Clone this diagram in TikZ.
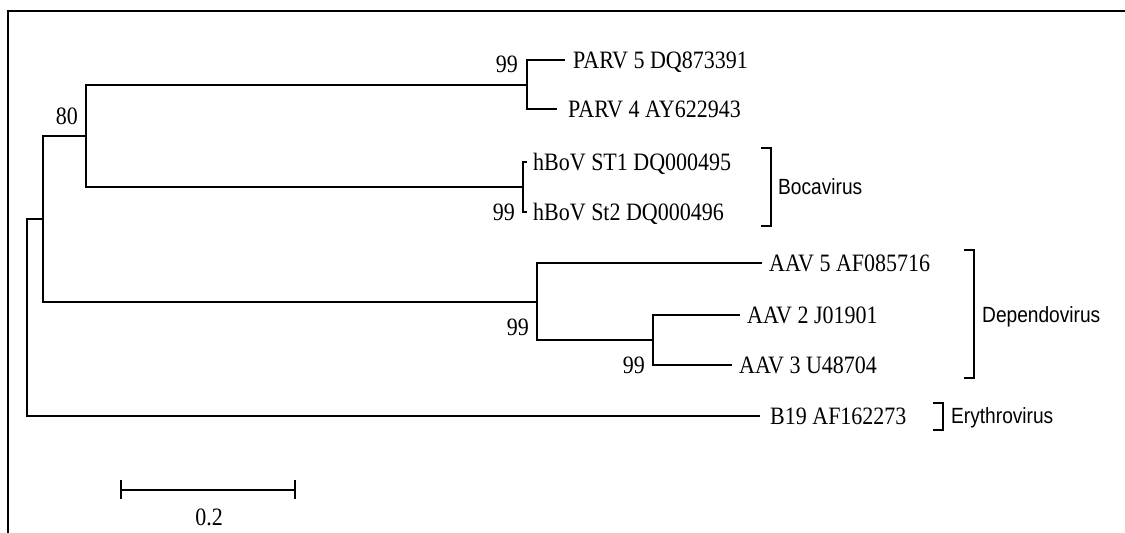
\documentclass[tikz,border=0pt]{standalone}
\usepackage{fontspec}
\setmainfont{Liberation Serif}
\newfontfamily\labsans{Liberation Sans}
\usepackage{graphicx}
\newcommand{\sqz}[1]{\scalebox{0.88}[1]{#1}}
\newcommand{\sqs}[1]{\scalebox{0.87}[1]{#1}}
\begin{document}
\begin{tikzpicture}[x=1pt,y=-1pt,
  branch/.style={line width=2pt, line join=miter},
  framestyle/.style={line width=2pt},
  bracketstyle/.style={line width=2pt},
  taxon/.style={anchor=base west, inner sep=0pt, font=\fontsize{25}{30}\selectfont},
  boot/.style={anchor=base east, inner sep=0pt, font=\fontsize{25}{30}\selectfont},
  genus/.style={anchor=base west, inner sep=0pt, font=\labsans\fontsize{22}{26}\selectfont},
  scalelab/.style={anchor=base, inner sep=0pt, font=\fontsize{25}{30}\selectfont}]
\useasboundingbox (0,0) rectangle (1125,533);
\fill[white] (0,0) rectangle (1125,533);
% frame
\coordinate (f1) at (8,533);
\coordinate (f2) at (8,11);
\coordinate (f3) at (1125,11);
\draw[framestyle] (f1) -- (f2) -- (f3);
% internal nodes
\coordinate (r) at (27,300);
\coordinate (a) at (43,219);
\coordinate (b) at (86,136);
\coordinate (p) at (527,85);
\coordinate (h) at (523,187);
\coordinate (d) at (537,302);
\coordinate (e) at (653,340);
% leaves
\coordinate (l1) at (565,60);
\coordinate (l2) at (557,109);
\coordinate (l3) at (527,162);
\coordinate (l4) at (527,212);
\coordinate (l5) at (762,263);
\coordinate (l6) at (740,315);
\coordinate (l7) at (732,365);
\coordinate (l8) at (760,416);
% branches
\draw[branch] (r) |- (a);
\draw[branch] (r) |- (l8);
\draw[branch] (a) |- (b);
\draw[branch] (a) |- (d);
\draw[branch] (b) |- (p);
\draw[branch] (b) |- (h);
\draw[branch] (p) |- (l1);
\draw[branch] (p) |- (l2);
\draw[branch] (h) |- (l3);
\draw[branch] (h) |- (l4);
\draw[branch] (d) |- (l5);
\draw[branch] (d) |- (e);
\draw[branch] (e) |- (l6);
\draw[branch] (e) |- (l7);
% taxon labels
\node[taxon] (t1) at (573,68) {\sqz{PARV 5 DQ873391}};
\node[taxon] (t2) at (568,117) {\sqz{PARV 4 AY622943}};
\node[taxon] (t3) at (533,170) {\sqz{hBoV ST1 DQ000495}};
\node[taxon] (t4) at (533,220) {\sqz{hBoV St2 DQ000496}};
\node[taxon] (t5) at (769,271) {\sqz{AAV 5 AF085716}};
\node[taxon] (t6) at (747,323) {\sqz{AAV 2 J01901}};
\node[taxon] (t7) at (739,373) {\sqz{AAV 3 U48704}};
\node[taxon] (t8) at (770,424) {\sqz{B19 AF162273}};
% bootstrap values
\node[boot] (bs80) at (78,124) {\sqz{80}};
\node[boot] (bsp) at (518,72) {\sqz{99}};
\node[boot] (bsh) at (515,220) {\sqz{99}};
\node[boot] (bsd) at (529,335) {\sqz{99}};
\node[boot] (bse) at (645,373) {\sqz{99}};
% brackets
\coordinate (bo1) at (761,148);
\coordinate (bo2) at (771,148);
\coordinate (bo3) at (771,226);
\coordinate (bo4) at (761,226);
\draw[bracketstyle] (bo1) -- (bo2) -- (bo3) -- (bo4);
\node[genus] (gbo) at (778,194) {\sqs{Bocavirus}};
\coordinate (de1) at (964,250);
\coordinate (de2) at (974,250);
\coordinate (de3) at (974,378);
\coordinate (de4) at (964,378);
\draw[bracketstyle] (de1) -- (de2) -- (de3) -- (de4);
\node[genus] (gde) at (982,322) {\sqs{Dependovirus}};
\coordinate (er1) at (933,403);
\coordinate (er2) at (943,403);
\coordinate (er3) at (943,430);
\coordinate (er4) at (933,430);
\draw[bracketstyle] (er1) -- (er2) -- (er3) -- (er4);
\node[genus] (ger) at (951,423) {\sqs{Erythrovirus}};
% scale bar
\coordinate (s1) at (121,490);
\coordinate (s2) at (295,490);
\draw[line width=2.5pt] (s1) -- (s2);
\draw[line width=2pt] ([yshift=-9pt]s1) -- ([yshift=10pt]s1);
\draw[line width=2pt] ([yshift=-9pt]s2) -- ([yshift=10pt]s2);
\node[scalelab] (sl) at (209,525) {\sqz{0.2}};
\end{tikzpicture}
\end{document}
